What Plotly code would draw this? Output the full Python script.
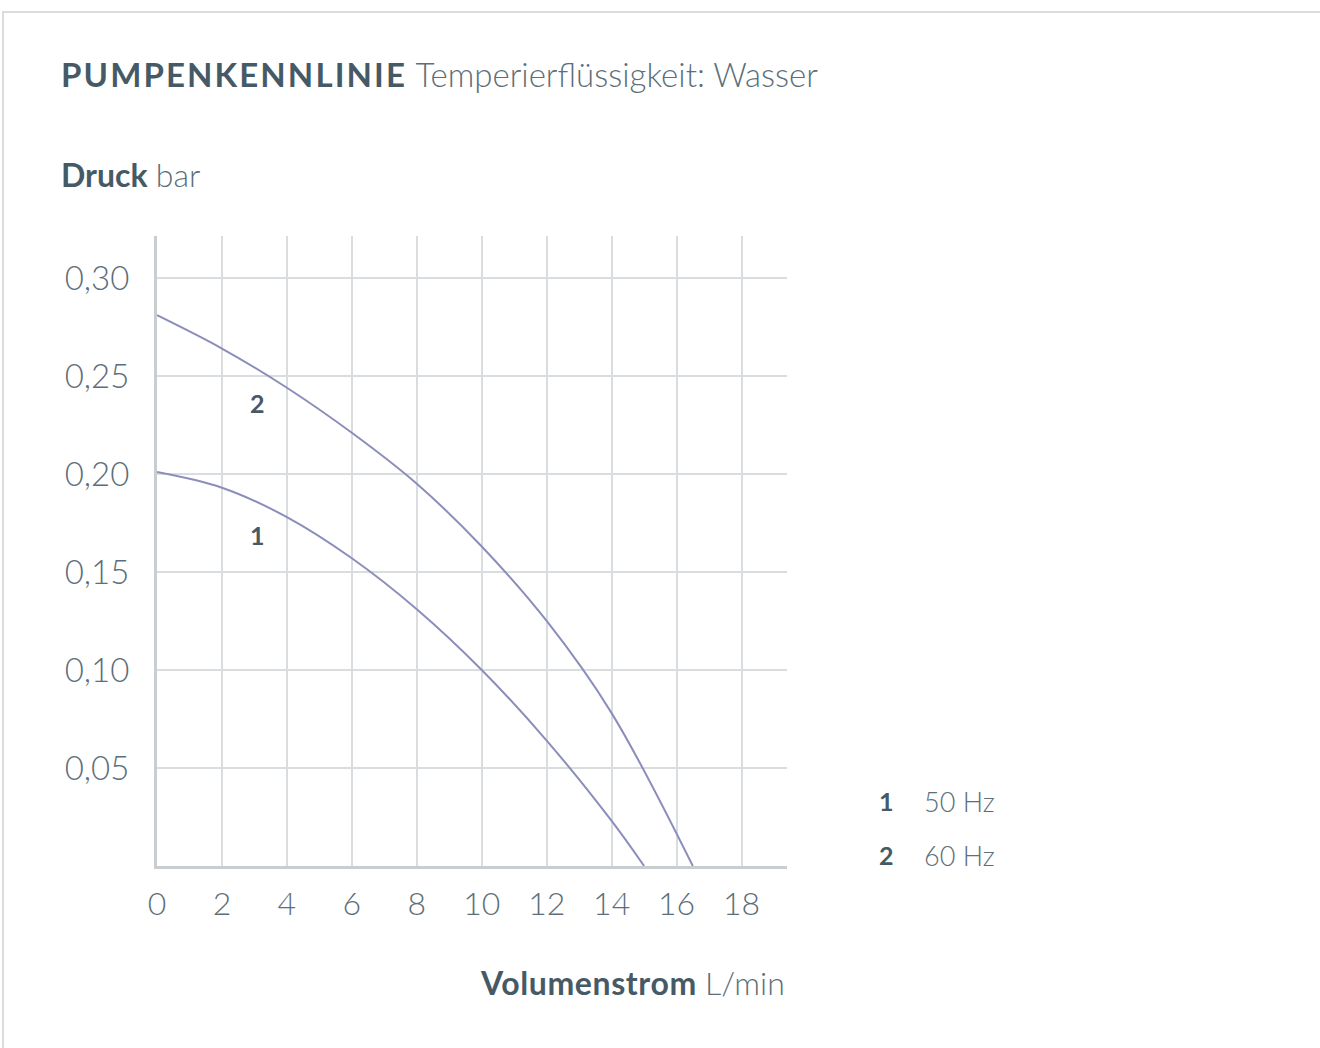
import plotly.graph_objects as go

# Data
flow_60 = [0, 2, 4, 6, 8, 10, 12, 14, 16.5]
pressure_60 = [0.281, 0.264, 0.244, 0.221, 0.195, 0.163, 0.125, 0.078, 0.0]
flow_50 = [0, 2, 4, 6, 8, 10, 12, 14, 15]
pressure_50 = [0.201, 0.193, 0.178, 0.157, 0.131, 0.100, 0.064, 0.023, 0.0]
x_ticks = [0, 2, 4, 6, 8, 10, 12, 14, 16, 18]
y_ticks = [0.05, 0.10, 0.15, 0.20, 0.25, 0.30]
legend_ids = ["1", "2"]
legend_labels = ["50 Hz", "60 Hz"]

LINE = "#8b8eba"
DARK = "#465a66"
LIGHT = "#5c6e79"
FONT = "Lato"

fig = go.Figure()
for fx, fy in ((flow_50, pressure_50), (flow_60, pressure_60)):
    fig.add_trace(go.Scatter(x=fx, y=fy, mode="lines",
                             line=dict(color=LINE, width=2, shape="spline", smoothing=1.0),
                             hoverinfo="skip"))

W, H = 1320, 1048
L, T = 157, 236
R = W - 787
B = H - 866
pw, ph = W - L - R, H - T - B

def px(xp):
    return (xp - L) / pw

def py(yp):
    return (H - B - yp) / ph

def light(t):
    return "<span style='color:%s;font-weight:300'>%s</span>" % (LIGHT, t)

annotations = [
    dict(x=px(59), y=py(74), xref="paper", yref="paper", xanchor="left", yanchor="middle",
         text="<span style='letter-spacing:2.1px'><b>PUMPENKENNLINIE</b></span> " + light("Temperierflüssigkeit: Wasser"),
         showarrow=False, font=dict(family=FONT, size=33, color=DARK)),
    dict(x=px(59), y=py(175), xref="paper", yref="paper", xanchor="left", yanchor="middle",
         text="<b>Druck</b> " + light("bar"),
         showarrow=False, font=dict(family=FONT, size=32, color=DARK)),
    dict(x=px(787), y=py(982), xref="paper", yref="paper", xanchor="right", yanchor="middle",
         text="<span style='letter-spacing:0.6px'><b>Volumenstrom</b></span> " + light("L/min"),
         showarrow=False, font=dict(family=FONT, size=32, color=DARK)),
    dict(x=3.1, y=0.236, xref="x", yref="y", text="<b>2</b>", showarrow=False,
         font=dict(family=FONT, size=25, color=DARK)),
    dict(x=3.1, y=0.169, xref="x", yref="y", text="<b>1</b>", showarrow=False,
         font=dict(family=FONT, size=25, color=DARK)),
]
for i, (lid, lab) in enumerate(zip(legend_ids, legend_labels)):
    ypix = 801 + 54 * i
    annotations.append(dict(x=px(886), y=py(ypix), xref="paper", yref="paper", xanchor="center", yanchor="middle",
                            text="<b>%s</b>" % lid, showarrow=False, font=dict(family=FONT, size=25, color=DARK)))
    annotations.append(dict(x=px(922), y=py(ypix), xref="paper", yref="paper", xanchor="left", yanchor="middle",
                            text=lab, showarrow=False, font=dict(family=FONT, size=27, color=LIGHT, weight=300)))

fig.update_layout(
    width=W, height=H,
    margin=dict(l=L, r=R, t=T, b=B),
    paper_bgcolor="white", plot_bgcolor="white",
    showlegend=False,
    separators=",.",
    annotations=annotations,
    shapes=[dict(type="rect", xref="paper", yref="paper", x0=px(3), x1=px(1340), y0=py(1070), y1=py(12),
                 line=dict(color="#dcdcdc", width=2), layer="below")],
    xaxis=dict(range=[0, 19.4], tickvals=x_ticks, showgrid=True, gridcolor="#dadde0", gridwidth=1.5,
               showline=True, linecolor="#c9cdd0", linewidth=3, zeroline=False, ticks="",
               tickfont=dict(family=FONT, size=32, color=LIGHT, weight=300), ticklabelstandoff=8, fixedrange=True),
    yaxis=dict(range=[0, 0.3214], tickvals=y_ticks, tickformat=".2f", showgrid=True, gridcolor="#dadde0", gridwidth=1.5,
               showline=True, linecolor="#c9cdd0", linewidth=3, zeroline=False, ticks="",
               tickfont=dict(family=FONT, size=33, color=LIGHT, weight=300), ticklabelstandoff=18, fixedrange=True),
)

fig.write_html("out.html", config={"displayModeBar": False},
               post_script="document.body.style.margin='0';document.body.style.overflow='hidden';")
